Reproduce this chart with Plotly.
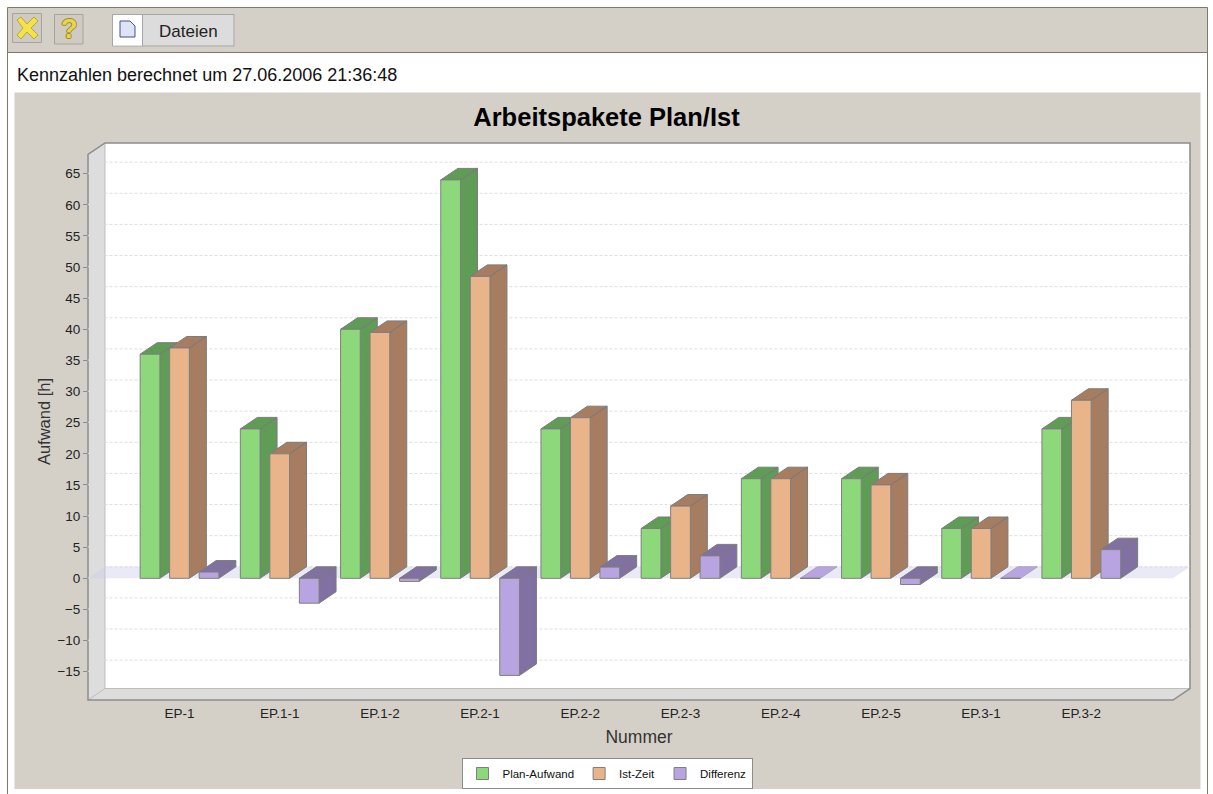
import plotly.graph_objects as go

categories = ["EP-1", "EP.1-1", "EP.1-2", "EP.2-1", "EP.2-2", "EP.2-3", "EP.2-4", "EP.2-5", "EP.3-1", "EP.3-2"]
plan_aufwand = [36, 24, 40, 64, 24, 8, 16, 16, 8, 24]
ist_zeit = [37, 20, 39.5, 48.5, 25.8, 11.6, 16, 15, 8, 28.6]
differenz = [1, -4, -0.5, -15.6, 1.8, 3.6, 0, -1, 0, 4.6]
y_ticks = [-15, -10, -5, 0, 5, 10, 15, 20, 25, 30, 35, 40, 45, 50, 55, 60, 65]

W, H = 1213, 794
PX_PER_CAT, PX_PER_UNIT = 100.2, 6.225
X0_PX, Y0_PX = 179.5, 578.3          # pixel of category 0 / value 0 on the front plane
L, R, T, B = 88, 1190, 143, 700      # outer box of the 3D plot
DEPTH_X, DEPTH_Y = 17, 11.5          # 3D offset in pixels
DX, DY = DEPTH_X / PX_PER_CAT, DEPTH_Y / PX_PER_UNIT
x_range = [(L - X0_PX) / PX_PER_CAT, (R - X0_PX) / PX_PER_CAT]
y_range = [(Y0_PX - B) / PX_PER_UNIT, (Y0_PX - T) / PX_PER_UNIT]
BAR_W, SLOT = 19.7 / PX_PER_CAT, 29.5 / PX_PER_CAT
PANEL = "#D4D0C8"
OUTLINE = "#7F7F7F"

series = [
    ("Plan-Aufwand", plan_aufwand, "#8CD87A", "#5F9C56", -1),
    ("Ist-Zeit", ist_zeit, "#EAB48A", "#A67D60", 0),
    ("Differenz", differenz, "#B9A4E2", "#8170A2", 1),
]


def fx(x):
    return x / W


def fy(y):
    return 1 - y / H


def poly(pts, fill=None, line=None, width=1, close=True, dash=None):
    d = "M" + " L".join(f"{fx(x):.5f} {fy(y):.5f}" for x, y in pts) + (" Z" if close else "")
    ln = dict(color=line, width=width) if line else dict(width=0)
    if dash:
        ln["dash"] = dash
    s = dict(type="path", path=d, xref="paper", yref="paper", layer="below", line=ln)
    if fill:
        s["fillcolor"] = fill
    return s


def rect(x0, y0, x1, y1, fill=None, line=None, width=1):
    return poly([(x0, y0), (x1, y0), (x1, y1), (x0, y1)], fill, line, width)


shapes = [
    # page furniture
    rect(7.5, 7.5, 1207.5, 52.5, PANEL, "#7D7A68", 1),
    poly([(7.5, 52), (7.5, 794)], None, "#7D7A68", 1, close=False),
    poly([(1207.5, 52), (1207.5, 794)], None, "#7D7A68", 1, close=False),
    rect(14.5, 92.5, 1200.5, 789, PANEL),
    # close button
    rect(12.5, 13.5, 41.5, 42.5, "#CFCBC3", "#A6A39B", 1),
    poly([(17, 20), (21, 17), (27, 24), (34, 17), (38, 21), (31, 28), (38, 35), (34, 39),
          (27, 32), (21, 39), (17, 35), (23, 28)], "#F3E24B", "#B9A92E", 1),
    # help button
    rect(54.5, 14.5, 83, 44, "#CFCBC3", "#A6A39B", 1),
    # Dateien button
    rect(112.5, 14.5, 234, 46, "#DCDCDC", "#A6A6A6", 1),
    rect(113, 15, 142.5, 45.5, "#FFFFFF", "#FFFFFF", 0),
    poly([(142.5, 15), (142.5, 46)], None, "#A6A6A6", 1, close=False),
    poly([(120, 21), (130, 21), (135, 26), (135, 37), (120, 37)], "#DCE4F6", "#44508C", 1),
    # 3D box of the plot
    poly([(L + DEPTH_X, T), (R, T), (R, B - DEPTH_Y), (L + DEPTH_X, B - DEPTH_Y)], "#FFFFFF"),
    poly([(L, T + DEPTH_Y), (L + DEPTH_X, T), (L + DEPTH_X, B - DEPTH_Y), (L, B)], "#DDDDDD"),
    poly([(L, B), (L + DEPTH_X, B - DEPTH_Y), (R, B - DEPTH_Y), (R - DEPTH_X, B)], "#DDDDDD"),
    poly([(L + DEPTH_X, T), (L + DEPTH_X, B - DEPTH_Y), (R, B - DEPTH_Y)], None, "#BDBDBD", 1, close=False),
    poly([(L, B), (L + DEPTH_X, B - DEPTH_Y)], None, "#BDBDBD", 1, close=False),
    poly([(L, B), (L, T + DEPTH_Y), (L + DEPTH_X, T), (R, T), (R, B - DEPTH_Y), (R - DEPTH_X, B)],
         "rgba(0,0,0,0)", "#8C8C8C", 1.5),
]

fig = go.Figure()

# back-wall grid lines (with their diagonal on the left wall)
gx, gy = [], []
for t in y_ticks:
    gx += [x_range[0], x_range[0] + DX, x_range[1], None]
    gy += [t, t + DY, t + DY, None]
fig.add_trace(go.Scatter(x=gx, y=gy, mode="lines", line=dict(color="#DEDEDE", width=1, dash="3px,2px"),
                         hoverinfo="skip", showlegend=False))

# zero plane
fig.add_trace(go.Scatter(
    x=[x_range[0], x_range[0] + DX, x_range[1], x_range[1] - DX],
    y=[0, DY, DY, 0], mode="lines", fill="toself", fillcolor="rgba(205,205,235,0.42)",
    line=dict(width=0), hoverinfo="skip", showlegend=False))

# side and top faces of the bars
for name, vals, front, dark, pos in series:
    xs, ys, zx, zy = [], [], [], []
    for i, v in enumerate(vals):
        xl = i + pos * SLOT - BAR_W / 2
        xr = xl + BAR_W
        hi, lo = max(v, 0), min(v, 0)
        if v == 0:
            # a zero-height bar shows only a flat face in the light colour
            zx += [xl, xl + DX, xr + DX, xr, xl, None]
            zy += [0, DY, DY, 0, 0, None]
            continue
        xs += [xr, xr + DX, xr + DX, xr, xr, None, xl, xl + DX, xr + DX, xr, xl, None]
        ys += [hi, hi + DY, lo + DY, lo, hi, None, hi, hi + DY, hi + DY, hi, hi, None]
    fig.add_trace(go.Scatter(x=xs, y=ys, mode="lines", fill="toself", fillcolor=dark,
                             line=dict(color="#7B7B7B", width=1), hoverinfo="skip", showlegend=False))
    if zx:
        fig.add_trace(go.Scatter(x=zx, y=zy, mode="lines", fill="toself", fillcolor=front,
                                 line=dict(color="#A9A2BC", width=1), hoverinfo="skip", showlegend=False))

# front faces of the bars, on an overlaid pair of axes so they sit above the side faces
for name, vals, front, dark, pos in series:
    fig.add_trace(go.Bar(name=name, x=list(range(len(categories))), y=vals, xaxis="x2", yaxis="y2",
                         marker=dict(color=front, line=dict(color=OUTLINE, width=1))))

fig.update_layout(
    width=W, height=H, margin=dict(l=0, r=0, t=0, b=0, autoexpand=False),
    paper_bgcolor="#FFFFFF", plot_bgcolor="rgba(0,0,0,0)",
    font=dict(family="Liberation Sans", color="#222222"),
    barmode="group", bargap=1 - 3 * SLOT, bargroupgap=1 - BAR_W / SLOT,
    title=dict(text="<b>Arbeitspakete Plan/Ist</b>", x=606.5 / W, y=fy(117), xanchor="center", yanchor="middle",
               font=dict(size=25.5, color="#000000")),
    xaxis=dict(domain=[L / W, R / W], range=x_range, tickvals=list(range(len(categories))), ticktext=categories,
               showgrid=False, zeroline=False, showline=False, ticks="", ticklabelstandoff=3,
               tickfont=dict(size=13.5, color="#222222"),
               title=dict(text="Nummer", font=dict(size=17.5, color="#333333"), standoff=11), automargin=False),
    yaxis=dict(domain=[fy(B), fy(T)], range=y_range, tickvals=y_ticks, showgrid=False, zeroline=False,
               showline=False, ticks="outside", ticklen=4, tickcolor="#8C8C8C",
               tickfont=dict(size=13.5, color="#222222"),
               title=dict(text="Aufwand [h]", font=dict(size=16.5, color="#333333"), standoff=2), automargin=False),
    xaxis2=dict(overlaying="x", range=x_range, visible=False, anchor="y2"),
    yaxis2=dict(overlaying="y", range=y_range, visible=False, anchor="x2"),
    legend=dict(orientation="h", x=607 / W, y=fy(773.5), xanchor="center", yanchor="middle",
                bgcolor="#FFFFFF", bordercolor="#8C8C8C", borderwidth=1,
                font=dict(size=11.5, color="#111111")),
    shapes=shapes,
    annotations=[
        dict(text="Dateien", x=188 / W, y=fy(31), xref="paper", yref="paper", xanchor="center", yanchor="middle",
             showarrow=False, font=dict(size=17, color="#222222")),
        dict(text="<b>?</b>", x=69 / W, y=fy(29), xref="paper", yref="paper", xanchor="center", yanchor="middle",
             showarrow=False,
             font=dict(size=27, color="#EBD64A", shadow="1px 0 0 #9A8B2A, -1px 0 0 #9A8B2A, 0 1px 0 #9A8B2A, 0 -1px 0 #9A8B2A")),
        dict(text="Kennzahlen berechnet um 27.06.2006 21:36:48", x=15 / W, y=fy(75), xref="paper", yref="paper",
             xanchor="left", yanchor="middle", showarrow=False, font=dict(size=18, color="#111111")),
    ],
)

fig.write_html("out.html", config=dict(displayModeBar=False), post_script="document.body.style.margin='0';")
